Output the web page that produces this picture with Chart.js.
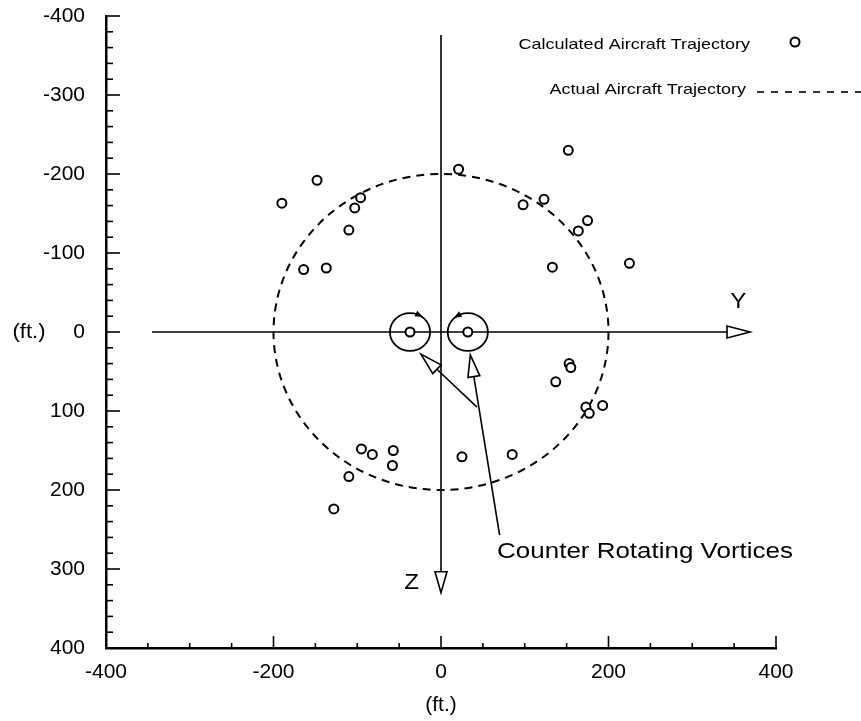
<!DOCTYPE html>
<html>
<head>
<meta charset="utf-8">
<script src="https://cdn.jsdelivr.net/npm/chart.js@4.4.1/dist/chart.umd.min.js"></script>
<style>
  html, body { margin: 0; padding: 0; background: #fff; }
  #wrap { width: 861px; height: 721px; }
</style>
</head>
<body>
<div id="wrap"><canvas id="vortexChart" width="861" height="721"></canvas></div>
<script>
// Calculated aircraft positions: lateral Y and vertical Z, in ft
const calcY = [-190, -148, -96, -103, -110, -164, -137, 21, 152, 98, 123, 175, 164, 225, 133,
               153, 155, 137, 173, 177, 193, 85, 25, -95, -82, -57, -58, -110, -128];
const calcZ = [-163, -192, -170, -157, -129, -79, -81, -206, -230, -161, -168, -141, -128, -87, -82,
               40, 45, 63, 95, 103, 93, 155, 158, 148, 155, 150, 169, 183, 224];

// Vortex core positions and their drawn radius (ft)
const vortexY = [-37, 32];
const vortexZ = [0, 0];
const vortexRadius = 24;

// Actual trajectory: circle about the origin
const trajectoryRadius = 200;

// Tick labels
const xTickValues = [-400, -200, 0, 200, 400];
const yTickValues = [-400, -300, -200, -100, 0, 100, 200, 300, 400];

const FONT = "'Liberation Sans', Arial, Helvetica, sans-serif";

function textStretched(ctx, text, x, y, size, align, sx) {
    ctx.save();
    ctx.font = size + 'px ' + FONT;
    ctx.fillStyle = '#000';
    ctx.translate(x, y);
    ctx.scale(sx, 1);
    ctx.textAlign = align;
    ctx.textBaseline = 'middle';
    ctx.fillText(text, 0, 0);
    ctx.restore();
}

// open (hollow) arrow head with its tip at (tx, ty), coming from (fx, fy)
function openArrow(ctx, fx, fy, tx, ty, len, half) {
    const dx = tx - fx, dy = ty - fy;
    const n = Math.hypot(dx, dy);
    const ux = dx / n, uy = dy / n;
    const bx = tx - ux * len, by = ty - uy * len;
    ctx.beginPath();
    ctx.moveTo(fx, fy);
    ctx.lineTo(bx, by);
    ctx.stroke();
    ctx.beginPath();
    ctx.moveTo(tx, ty);
    ctx.lineTo(bx - uy * half, by + ux * half);
    ctx.lineTo(bx + uy * half, by - ux * half);
    ctx.closePath();
    ctx.fillStyle = '#fff';
    ctx.fill();
    ctx.stroke();
}

// little filled wedge on a vortex ring showing the sense of rotation
function wedge(ctx, cx, cy, rx, ry, angDeg, dir) {
    const a = angDeg * Math.PI / 180;
    const px = cx + rx * Math.cos(a), py = cy + ry * Math.sin(a);
    let tx = -rx * Math.sin(a) * dir, ty = ry * Math.cos(a) * dir;
    const n = Math.hypot(tx, ty);
    tx /= n; ty /= n;
    const s = 8;
    ctx.beginPath();
    ctx.moveTo(px + tx * s / 2, py + ty * s / 2);
    ctx.lineTo(px - tx * s / 2 - ty * 3, py - ty * s / 2 + tx * 3);
    ctx.lineTo(px - tx * s / 2 + ty * 3, py - ty * s / 2 - tx * 3);
    ctx.closePath();
    ctx.fillStyle = '#000';
    ctx.fill();
}

const figurePlugin = {
    id: 'figure',
    beforeDatasetsDraw(chart) {
        const ctx = chart.ctx;
        const xs = chart.scales.x, ys = chart.scales.y;
        const cx = xs.getPixelForValue(0), cy = ys.getPixelForValue(0);

        // dashed trajectory circle
        const rx = xs.getPixelForValue(trajectoryRadius) - cx;
        const ry = ys.getPixelForValue(trajectoryRadius) - cy;
        ctx.save();
        ctx.strokeStyle = '#000';
        ctx.lineWidth = 2;
        ctx.setLineDash([8, 6]);
        ctx.beginPath();
        ctx.ellipse(cx, cy, rx, ry, 0, 0, Math.PI * 2);
        ctx.stroke();
        ctx.setLineDash([]);

        // Y and Z reference axes
        ctx.lineWidth = 1.6;
        openArrow(ctx, xs.getPixelForValue(-345), cy, xs.getPixelForValue(369), cy, 23, 6);
        openArrow(ctx, cx, ys.getPixelForValue(-376), cx, ys.getPixelForValue(330), 21, 6);

        // vortex rings
        ctx.lineWidth = 1.8;
        vortexY.forEach((v, i) => {
            const vx = xs.getPixelForValue(v), vy = ys.getPixelForValue(vortexZ[i]);
            const vrx = xs.getPixelForValue(v + vortexRadius) - vx;
            const vry = ys.getPixelForValue(vortexZ[i] + vortexRadius) - vy;
            ctx.beginPath();
            ctx.ellipse(vx, vy, vrx, vry, 0, 0, Math.PI * 2);
            ctx.stroke();
            if (i === 0) wedge(ctx, vx, vy, vrx, vry, -62, 1);
            else wedge(ctx, vx, vy, vrx, vry, -122, -1);
        });

        // pointers to the vortices
        ctx.lineWidth = 1.6;
        openArrow(ctx, xs.getPixelForValue(43), ys.getPixelForValue(95),
                  xs.getPixelForValue(-24), ys.getPixelForValue(28), 22, 6);
        openArrow(ctx, xs.getPixelForValue(70), ys.getPixelForValue(257),
                  xs.getPixelForValue(35), ys.getPixelForValue(29), 22, 6);
        ctx.restore();
    },
    afterDraw(chart) {
        const ctx = chart.ctx;
        const xs = chart.scales.x, ys = chart.scales.y;
        const area = chart.chartArea;

        // inward tick marks on the frame
        ctx.save();
        ctx.strokeStyle = '#000';
        ctx.lineWidth = 1.6;
        for (let v = -400; v <= 400; v += 50) {
            const px = xs.getPixelForValue(v);
            const len = v % 200 === 0 ? 12 : 5;
            ctx.beginPath();
            ctx.moveTo(px, area.bottom);
            ctx.lineTo(px, area.bottom - len);
            ctx.stroke();
        }
        for (let v = -400; v <= 400; v += 20) {
            const py = ys.getPixelForValue(v);
            const len = v % 100 === 0 ? 14 : 7;
            ctx.beginPath();
            ctx.moveTo(area.left, py);
            ctx.lineTo(area.left + len, py);
            ctx.stroke();
        }

        // axis unit on the left, letters Y and Z, callout text
        textStretched(ctx, '(ft.)', 29, ys.getPixelForValue(0), 20, 'center', 1.1);
        textStretched(ctx, 'Y', xs.getPixelForValue(355), ys.getPixelForValue(-38), 22, 'center', 1.1);
        textStretched(ctx, 'Z', xs.getPixelForValue(-35), ys.getPixelForValue(318), 22, 'center', 1.1);
        textStretched(ctx, 'Counter Rotating Vortices', xs.getPixelForValue(67), ys.getPixelForValue(279), 22, 'left', 1.18);

        // legend, text first then the sample
        const ds0 = chart.data.datasets[0];
        const ds2 = chart.data.datasets[2];
        textStretched(ctx, ds0.label, 750, 45, 15, 'right', 1.2);
        ctx.lineWidth = 2;
        ctx.beginPath();
        ctx.arc(795, 42, 4.5, 0, Math.PI * 2);
        ctx.fillStyle = '#fff';
        ctx.fill();
        ctx.stroke();
        textStretched(ctx, ds2.label, 746, 90, 15, 'right', 1.2);
        ctx.lineWidth = 1.6;
        ctx.setLineDash([7, 7]);
        ctx.beginPath();
        ctx.moveTo(757, 92);
        ctx.lineTo(861, 92);
        ctx.stroke();
        ctx.restore();
    }
};

const pointStyle = {
    showLine: false,
    pointStyle: 'circle',
    pointRadius: 4.5,
    pointBorderWidth: 2,
    pointBackgroundColor: '#fff',
    pointBorderColor: '#000'
};

new Chart(document.getElementById('vortexChart'), {
    type: 'scatter',
    data: {
        datasets: [
            Object.assign({
                label: 'Calculated Aircraft Trajectory',
                data: calcY.map((v, i) => ({ x: v, y: calcZ[i] }))
            }, pointStyle),
            Object.assign({
                label: 'Vortex cores',
                data: vortexY.map((v, i) => ({ x: v, y: vortexZ[i] }))
            }, pointStyle),
            {
                label: 'Actual Aircraft Trajectory',
                data: [],
                borderDash: [8, 6],
                borderColor: '#000'
            }
        ]
    },
    options: {
        responsive: false,
        animation: false,
        events: [],
        layout: { padding: { top: 16, right: 85, bottom: 0, left: 0 } },
        plugins: {
            legend: { display: false },
            tooltip: { enabled: false }
        },
        scales: {
            x: {
                type: 'linear',
                min: -400,
                max: 400,
                afterBuildTicks: s => { s.ticks = xTickValues.map(v => ({ value: v })); },
                afterFit: s => { s.height = 73; },
                grid: { display: false },
                border: { display: true, color: '#000', width: 2.5 },
                ticks: { color: '#000', padding: 4, maxRotation: 0, font: { family: FONT, size: 21 } },
                title: { display: true, text: '(ft.)', color: '#000', padding: { top: 0, bottom: 3 }, font: { family: FONT, size: 21 } }
            },
            y: {
                type: 'linear',
                reverse: true,
                min: -400,
                max: 400,
                afterBuildTicks: s => { s.ticks = yTickValues.map(v => ({ value: v })); },
                afterFit: s => { s.width = 106; s.paddingTop = 0; s.paddingBottom = 0; },
                grid: { display: false },
                border: { display: true, color: '#000', width: 2.5 },
                ticks: { color: '#000', padding: 13, font: { family: FONT, size: 21 } }
            }
        }
    },
    plugins: [figurePlugin]
});
</script>
</body>
</html>
